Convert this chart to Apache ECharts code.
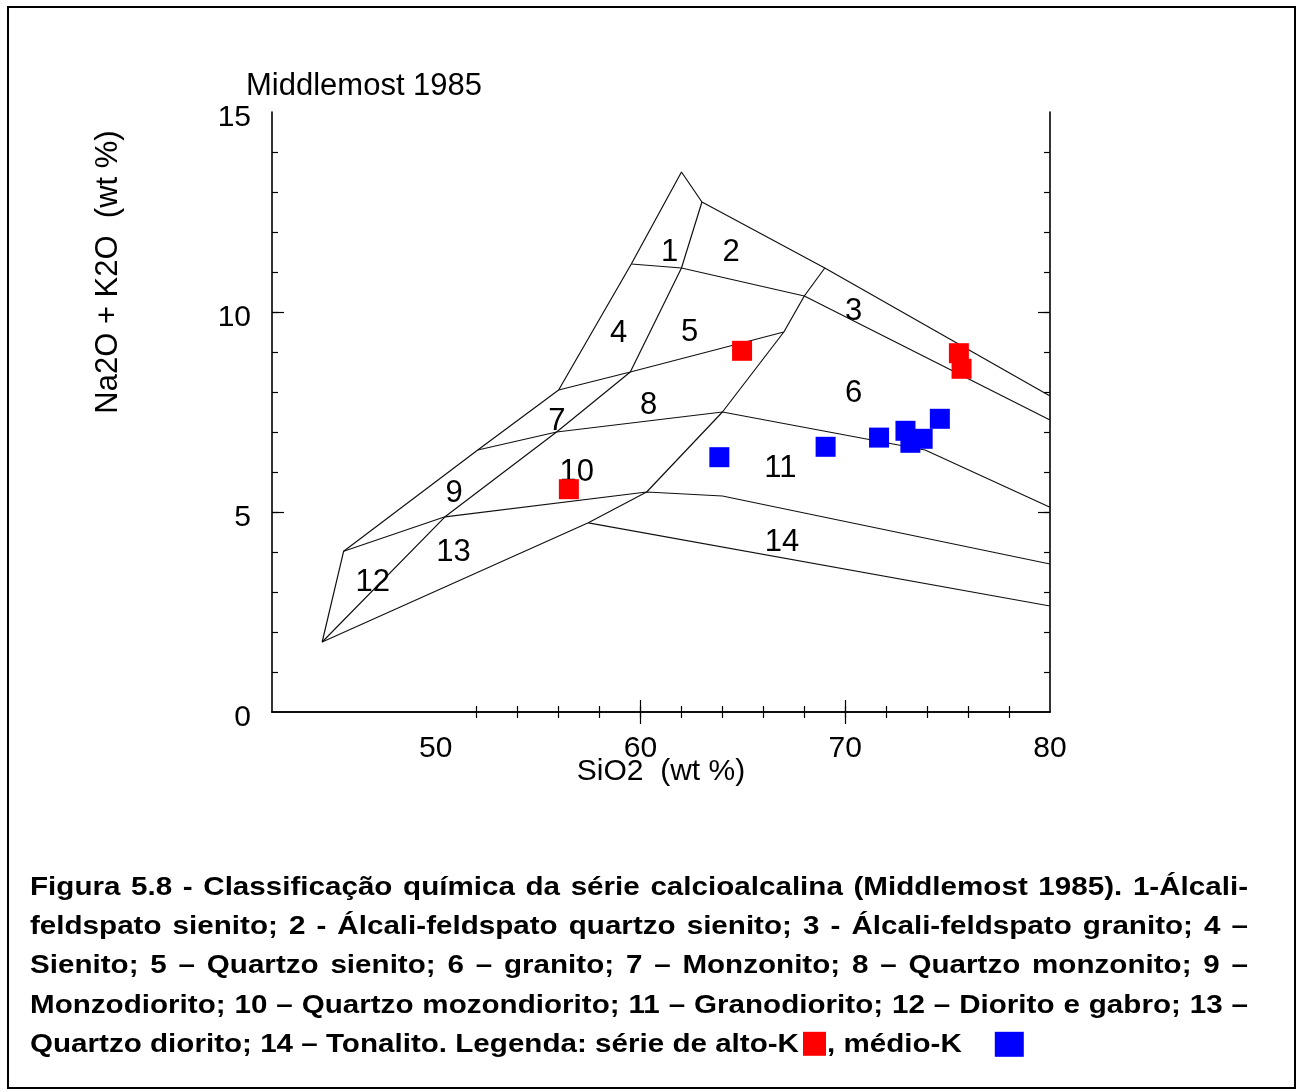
<!DOCTYPE html>
<html>
<head>
<meta charset="utf-8">
<script src="https://cdn.jsdelivr.net/npm/echarts@6/dist/echarts.min.js"></script>
<style>
html,body{margin:0;padding:0;background:#fff;}
#chart{width:1303px;height:1092px;}
</style>
</head>
<body>
<div id="chart"></div>
<script>
// ---------- DATA ----------
// Axis ticks / labels
const xMinorTicks = [52,54,56,58,60,62,64,66,68,70,72,74,76,78];
const xMajorTicks = [60,70];
const xLabelValues = [50,60,70,80];
const yMinorTicks = [1,2,3,4,5,6,7,8,9,10,11,12,13,14];
const yMajorTicks = [5,10];
const yLabelValues = [0,5,10,15];

// Field boundaries (Middlemost 1985), SiO2 vs Na2O+K2O
const outerLeftTop = [[44.45,1.75],[45.5,4.02],[52.05,6.55],[56.0,8.05],[59.55,11.2],[62.0,13.5],[63.0,12.75],[69.0,11.1],[80,7.9]];
const diagonal     = [[44.45,1.75],[50.45,4.88],[55.9,7.0],[59.5,8.5],[62.0,11.1],[63.0,12.75]];
const bottomRight  = [[44.45,1.75],[57.45,4.73],[60.3,5.5],[64.0,7.5],[67.0,9.5],[68.0,10.4],[69.0,11.1]];
const line12to45   = [[59.55,11.2],[62.0,11.1],[68.0,10.4],[80,7.3]];
const line45to78   = [[56.0,8.05],[59.5,8.5],[67.0,9.5]];
const line8to11    = [[52.05,6.55],[55.9,7.0],[64.0,7.5],[73.9,6.55],[80,5.12]];
const line10to13   = [[45.5,4.02],[50.45,4.88],[60.3,5.5],[64.0,5.4],[80,3.7]];
const line14base   = [[57.45,4.73],[80,2.65]];

// Field number labels
const fieldNames = ['1','2','3','4','5','6','7','8','9','10','11','12','13','14'];
const fieldX = [61.42,64.42,70.41,58.93,62.4,70.41,55.91,60.4,50.9,56.89,66.83,46.92,50.86,66.91];
const fieldY = [11.48,11.48,10.01,9.47,9.48,7.97,7.26,7.67,5.47,5.98,6.09,3.23,3.98,4.23];

// Samples
const altoK_SiO2  = [64.96,75.55,75.68,56.5];
const altoK_alk   = [9.03,8.97,8.58,5.57];
const medioK_SiO2 = [63.85,69.04,71.65,72.94,73.18,73.78,74.62];
const medioK_alk  = [6.37,6.63,6.86,7.03,6.73,6.83,7.33];

// Caption
const captionLines = [
  'Figura 5.8 - Classificação química da série calcioalcalina (Middlemost 1985). 1-Álcali-',
  'feldspato sienito; 2 - Álcali-feldspato quartzo sienito; 3 - Álcali-feldspato granito; 4 –',
  'Sienito; 5 – Quartzo sienito; 6 – granito; 7 – Monzonito; 8 – Quartzo monzonito; 9 –',
  'Monzodiorito; 10 – Quartzo mozondiorito; 11 – Granodiorito; 12 – Diorito e gabro; 13 –',
  'Quartzo diorito; 14 – Tonalito. Legenda: série de alto-K'
];
const captionTail = ', médio-K';

// ---------- CHART ----------
const FONT = '"Liberation Sans", Arial, sans-serif';
const BLACK = '#000';
const chart = echarts.init(document.getElementById('chart'), null, {renderer:'canvas'});

const gridRect = {left:272, top:112, width:778, height:600};
const xBase = {type:'value', min:42, max:80, splitLine:{show:false}};
const yBase = {type:'value', min:0, max:15, splitLine:{show:false}};
const lineAx = {show:true, lineStyle:{color:BLACK, width:1.6}};
const tickStyle = {color:BLACK, width:1.2};

function minorTick(vals){ return {show:true, inside:true, length:6, customValues:vals, lineStyle:tickStyle}; }
function majorTick(vals){ return {show:true, inside:true, length:12, customValues:vals, lineStyle:tickStyle}; }

const xAxis = [
  Object.assign({}, xBase, {gridIndex:0, position:'bottom', axisLine:lineAx, axisTick:minorTick(xMinorTicks),
    axisLabel:{show:true, customValues:xLabelValues, margin:22, fontSize:30, color:BLACK, fontFamily:FONT},
    name:'SiO2  (wt %)', nameLocation:'middle', nameGap:45, nameMoveOverlap:false,
    nameTextStyle:{fontSize:30, color:BLACK, fontFamily:FONT}}),
  Object.assign({}, xBase, {gridIndex:0, position:'top', axisLine:lineAx, axisTick:minorTick(xMinorTicks), axisLabel:{show:false}}),
  Object.assign({}, xBase, {gridIndex:1, position:'bottom', axisLine:{show:false}, axisTick:majorTick(xMajorTicks), axisLabel:{show:false}}),
  Object.assign({}, xBase, {gridIndex:1, position:'top', axisLine:{show:false}, axisTick:majorTick(xMajorTicks), axisLabel:{show:false}})
];
const yAxis = [
  Object.assign({}, yBase, {gridIndex:0, position:'left', axisLine:lineAx, axisTick:minorTick(yMinorTicks),
    axisLabel:{show:true, customValues:yLabelValues, margin:21, color:BLACK,
      formatter:'{v|{value}}',
      rich:{v:{fontSize:30, color:BLACK, fontFamily:FONT, padding:[12,0,0,0]}}}}),
  Object.assign({}, yBase, {gridIndex:0, position:'right', axisLine:lineAx, axisTick:minorTick(yMinorTicks), axisLabel:{show:false}}),
  Object.assign({}, yBase, {gridIndex:1, position:'left', axisLine:{show:false}, axisTick:majorTick(yMajorTicks), axisLabel:{show:false}}),
  Object.assign({}, yBase, {gridIndex:1, position:'right', axisLine:{show:false}, axisTick:majorTick(yMajorTicks), axisLabel:{show:false}})
];

function boundary(name, pts){
  return {type:'line', name:name, xAxisIndex:0, yAxisIndex:0, data:pts, showSymbol:false, symbol:'none',
    silent:true, lineStyle:{color:'#111', width:1.2}, z:2};
}

const series = [
  boundary('outer', outerLeftTop),
  boundary('diag', diagonal),
  boundary('bottom', bottomRight),
  boundary('l12', line12to45),
  boundary('l45', line45to78),
  boundary('l8', line8to11),
  boundary('l10', line10to13),
  boundary('l14', line14base),
  {type:'scatter', name:'fields', xAxisIndex:0, yAxisIndex:0, symbolSize:1, silent:true, z:3,
    itemStyle:{color:'rgba(0,0,0,0)', opacity:1},
    data: fieldNames.map((n,i)=>({name:n, value:[fieldX[i], fieldY[i]]})),
    label:{show:true, position:'inside', formatter:p=>p.name, fontSize:31, color:BLACK, fontFamily:FONT}},
  {type:'scatter', name:'alto-K', xAxisIndex:0, yAxisIndex:0, symbol:'rect', symbolSize:20, z:5,
    itemStyle:{color:'#ff0000', opacity:1}, data: altoK_SiO2.map((x,i)=>[x, altoK_alk[i]])},
  {type:'scatter', name:'médio-K', xAxisIndex:0, yAxisIndex:0, symbol:'rect', symbolSize:20, z:5,
    itemStyle:{color:'#0000ff', opacity:1}, data: medioK_SiO2.map((x,i)=>[x, medioK_alk[i]])}
];

// ---------- caption (justified lines, real text) ----------
const CAP_FONT = 'bold 29.6px "Liberation Sans", Arial, sans-serif';
const CAP_SCALE_Y = 0.86;
const meas = document.createElement('canvas').getContext('2d');
meas.font = CAP_FONT;
const graphics = [];
const capLeft = 30, capRight = 1248, capTop = 888, capStep = 39.2;

function wordEl(text, x, y){
  return {type:'text', x:x, y:y, scaleY:CAP_SCALE_Y, silent:true,
    style:{text:text, font:CAP_FONT, fill:BLACK, textAlign:'left', textVerticalAlign:'middle'}};
}
captionLines.forEach((line, li)=>{
  const y = capTop + capStep*li;
  const words = line.split(' ');
  const widths = words.map(w=>meas.measureText(w).width);
  const total = widths.reduce((a,b)=>a+b,0);
  const justify = li < captionLines.length-1;
  const gap = justify ? (capRight-capLeft-total)/(words.length-1) : meas.measureText(' ').width;
  let x = capLeft;
  words.forEach((w,i)=>{ graphics.push(wordEl(w, x, y)); x += widths[i] + gap; });
  if (!justify) {
    const endX = x - gap;
    const redX = endX + 4;
    graphics.push({type:'rect', silent:true, shape:{x:redX, y:y-13, width:23, height:24}, style:{fill:'#ff0000'}});
    const tailX = redX + 24;
    graphics.push(wordEl(captionTail, tailX, y));
    const tailEnd = tailX + meas.measureText(captionTail).width;
    graphics.push({type:'rect', silent:true, shape:{x:tailEnd+33, y:y-13, width:29, height:25}, style:{fill:'#0000ff'}});
  }
});

// outer frame, title, y-axis name
graphics.push({type:'rect', silent:true, z:-1, shape:{x:8, y:7, width:1287, height:1081}, style:{fill:'none', stroke:BLACK, lineWidth:2}});
graphics.push({type:'text', x:246, y:86, silent:true, style:{text:'Middlemost 1985', font:'31px "Liberation Sans", Arial, sans-serif', fill:BLACK, textAlign:'left', textVerticalAlign:'middle'}});
graphics.push({type:'text', x:108, y:272, rotation:Math.PI/2, silent:true, style:{text:'Na2O + K2O  (wt %)', font:'31px "Liberation Sans", Arial, sans-serif', fill:BLACK, textAlign:'center', textVerticalAlign:'middle'}});

chart.setOption({
  animation:false,
  backgroundColor:'#fff',
  grid:[Object.assign({}, gridRect), Object.assign({}, gridRect)],
  xAxis:xAxis,
  yAxis:yAxis,
  series:series,
  graphic:graphics
});
</script>
</body>
</html>
